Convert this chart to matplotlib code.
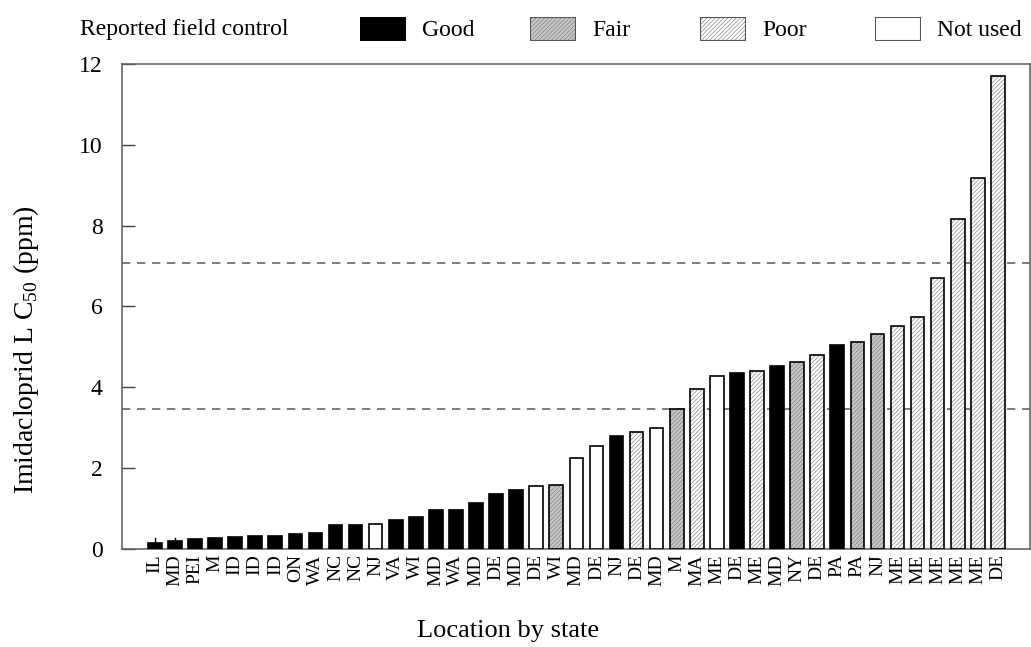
import matplotlib
matplotlib.use("Agg")
import matplotlib.pyplot as plt
import numpy as np

plt.rcParams['font.family'] = ['Liberation Serif', 'DejaVu Serif']
plt.rcParams['hatch.linewidth'] = 0.6
plt.rcParams['mathtext.fontset'] = 'custom'
plt.rcParams['mathtext.rm'] = 'Liberation Serif'

states = ["IL", "MD", "PEI", "M", "ID", "ID", "ID", "ON", "WA", "NC", "NC", "NJ",
          "VA", "WI", "MD", "WA", "MD", "DE", "MD", "DE", "WI", "MD", "DE", "NJ",
          "DE", "MD", "M", "MA", "ME", "DE", "ME", "MD", "NY", "DE", "PA", "PA",
          "NJ", "ME", "ME", "ME", "ME", "ME", "DE"]
lc50 = [0.13, 0.19, 0.25, 0.27, 0.28, 0.31, 0.32, 0.37, 0.39, 0.58, 0.59, 0.60,
        0.71, 0.78, 0.95, 0.95, 1.14, 1.36, 1.45, 1.54, 1.58, 2.24, 2.55, 2.79,
        2.89, 3.00, 3.46, 3.95, 4.28, 4.34, 4.39, 4.53, 4.62, 4.80, 5.04, 5.13,
        5.33, 5.51, 5.75, 6.71, 8.16, 9.19, 11.71]
control = ["Good", "Good", "Good", "Good", "Good", "Good", "Good", "Good", "Good",
           "Good", "Good", "Not used", "Good", "Good", "Good", "Good", "Good",
           "Good", "Good", "Not used", "Fair", "Not used", "Not used", "Good",
           "Poor", "Not used", "Fair", "Poor", "Not used", "Good", "Poor", "Good",
           "Fair", "Poor", "Good", "Fair", "Fair", "Poor", "Poor", "Poor", "Poor",
           "Poor", "Poor"]
upper_err = [0.13, 0.07] + [0.0] * 41
ref_lines = [3.46, 7.07]
categories = ["Good", "Fair", "Poor", "Not used"]

styles = {
    "Good": dict(face="black", hatch=None, hc=None),
    "Fair": dict(face="#c8c8c8", hatch="////////", hc="#8a8a8a"),
    "Poor": dict(face="white", hatch="////////", hc="#9a9a9a"),
    "Not used": dict(face="white", hatch=None, hc=None),
}

fig = plt.figure(figsize=(10.31, 6.47), dpi=100)
ax = fig.add_axes([0.1183, 0.152, 0.8807, 0.7486])

x = np.arange(len(states))
w = 0.68
for i, (v, c) in enumerate(zip(lc50, control)):
    st = styles[c]
    if st["hatch"]:
        ax.bar(x[i], v, w, color=st["face"], hatch=st["hatch"], edgecolor=st["hc"],
               linewidth=0, zorder=2)
        ax.bar(x[i], v, w, fill=False, edgecolor="black", linewidth=1.2, zorder=3)
    else:
        ax.bar(x[i], v, w, color=st["face"], edgecolor="black", linewidth=1.2, zorder=3)

# small upper error bars
for i, e in enumerate(upper_err):
    if e > 0:
        ax.plot([x[i], x[i]], [lc50[i], lc50[i] + e], color="black", lw=1.0, zorder=4)

for r in ref_lines:
    ax.axhline(r, color="#666666", ls=(0, (5, 4)), lw=1.2, zorder=1)

ax.set_xlim(-1.64, 43.6)
ax.set_ylim(0, 12)
ax.set_yticks(np.arange(0, 13, 2))
ax.set_xticks(x)
ax.set_xticklabels(states, rotation=90, fontsize=14)
ax.tick_params(axis='x', length=0, pad=4)
ax.tick_params(axis='y', direction='in', length=9, width=1, labelsize=17, pad=14,
               color="#444444")
for s in ax.spines.values():
    s.set_color("#666666")
    s.set_linewidth(1.2)

ax.set_ylabel("Imidacloprid L C$_{50}$ (ppm)", fontsize=20)
ax.yaxis.set_label_coords(-0.089, 0.41)
ax.set_xlabel("Location by state", fontsize=19)
ax.xaxis.set_label_coords(0.425, -0.148)

# legend row at top
fig.text(80 / 1031, 1 - 30 / 647, "Reported field control", fontsize=17,
         va="center", ha="left")
patch_x = [360, 530, 700, 875]
for px, cat in zip(patch_x, categories):
    st = styles[cat]
    pax = fig.add_axes([px / 1031, 1 - 41 / 647, 46 / 1031, 24 / 647])
    pax.set_axis_off()
    pax.set_xlim(0, 1)
    pax.set_ylim(0, 1)
    if st["hatch"]:
        pax.bar(0.5, 1, 1, color=st["face"], hatch=st["hatch"], edgecolor=st["hc"],
                linewidth=0)
        pax.bar(0.5, 1, 1, fill=False, edgecolor="#555555", linewidth=1.5)
    else:
        pax.bar(0.5, 1, 1, color=st["face"],
                edgecolor="#555555" if cat != "Good" else "black", linewidth=1.5)
    fig.text((px + 62) / 1031, 1 - 30 / 647, cat, fontsize=17, va="center", ha="left")

fig.savefig("out.png", dpi=100)
